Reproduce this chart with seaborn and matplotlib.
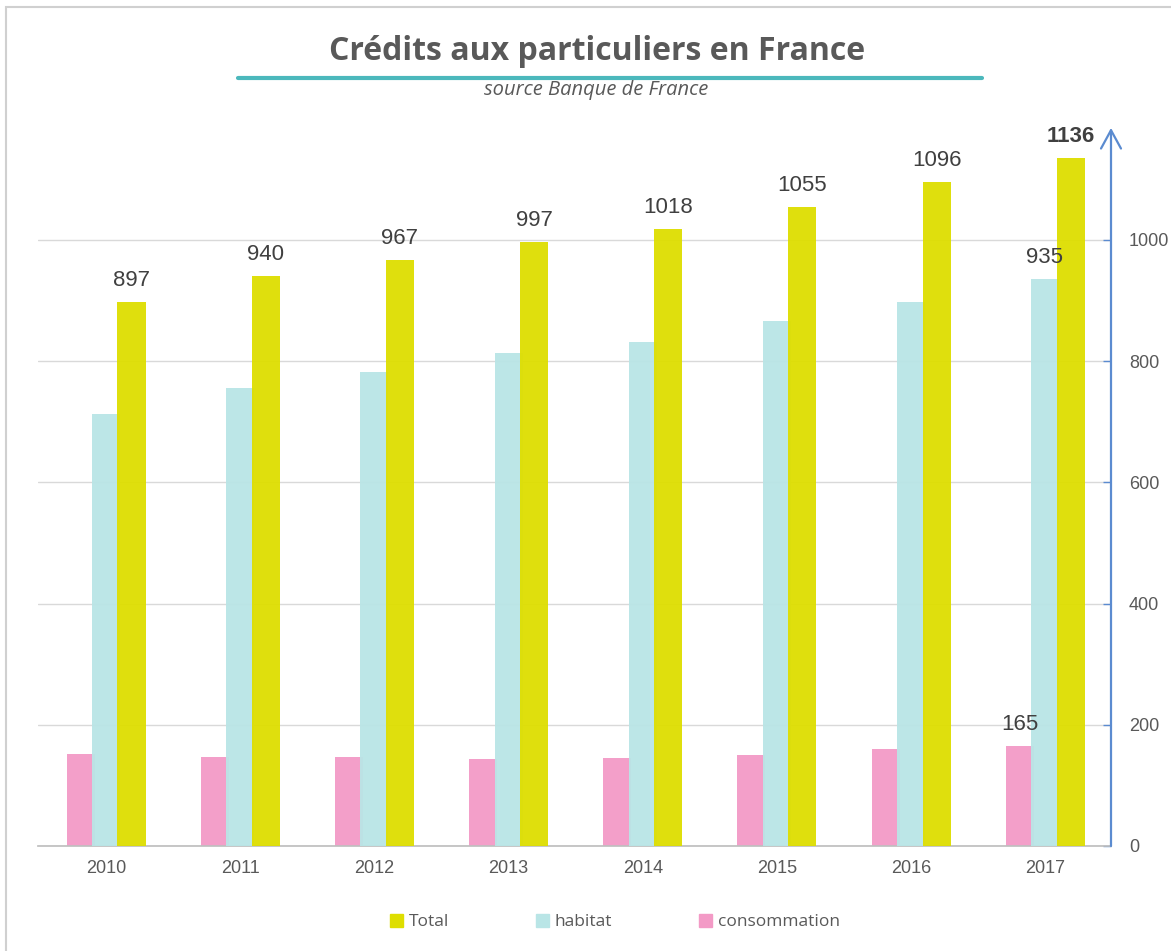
import pandas as pd
import seaborn as sns
import matplotlib
matplotlib.use('Agg')
import matplotlib.pyplot as plt
from matplotlib.patches import Patch, Rectangle
from matplotlib.lines import Line2D

# données (milliards d'euros)
annees = ['2010', '2011', '2012', '2013', '2014', '2015', '2016', '2017']
total = [897, 940, 967, 997, 1018, 1055, 1096, 1136]
habitat = [713, 756, 782, 813, 832, 866, 898, 935]
consommation = [152, 147, 147, 144, 145, 150, 160, 165]

couleurs = {'consommation': '#F39AC6', 'habitat': '#B9E5E6', 'Total': '#DEDE00'}
ordre = ['consommation', 'habitat', 'Total']

df = pd.DataFrame({'annee': annees * 3,
                   'serie': ['Total'] * 8 + ['habitat'] * 8 + ['consommation'] * 8,
                   'valeur': total + habitat + consommation})

sns.set_theme(style='white')
plt.rcParams['font.family'] = ['Liberation Sans', 'DejaVu Sans']

W, H = 1171, 951
fig = plt.figure(figsize=(W / 100, H / 100), dpi=100)
ax = fig.add_axes([38 / W, 1 - 846 / H, (1111 - 38) / W, 703 / H])

sns.barplot(data=df, x='annee', y='valeur', hue='serie', hue_order=ordre,
            palette=couleurs, width=0.57, gap=-0.1, order=annees,
            saturation=1, legend=False, ax=ax, linewidth=0)

for i, cont in enumerate(ax.containers):
    for p in cont:
        p.set_zorder(2 + i)
        p.set_alpha(0.95)

ax.set_xlim(-0.507, 7.49)
ax.set_ylim(0, 1160)
ax.set_xlabel('')
ax.set_ylabel('')

# axe vertical à droite
ax.yaxis.tick_right()
ax.set_yticks([0, 200, 400, 600, 800, 1000])
ax.tick_params(axis='y', direction='in', length=6, color='#5B8BD0', width=1,
               labelsize=13, labelcolor='#595959', pad=13, right=True, left=False)
ax.tick_params(axis='x', length=0, labelsize=13, labelcolor='#595959', pad=10)
ax.grid(axis='y', color='#D9D9D9', lw=1)
ax.set_axisbelow(True)
for s in ['top', 'left', 'right']:
    ax.spines[s].set_visible(False)
ax.spines['bottom'].set_color('#BFBFBF')
ax.annotate('', xy=(1, 1.0215), xytext=(1, 0), xycoords='axes fraction',
            arrowprops=dict(arrowstyle='->,head_length=1.1,head_width=0.6',
                            color='#5B8BD0', lw=1.6, shrinkA=0, shrinkB=0),
            annotation_clip=False)

# étiquettes de valeurs
for i, v in enumerate(total):
    ax.text(i + 0.19, v + 18, str(v), ha='center', va='bottom', fontsize=16,
            color='#404040', fontweight='bold' if i == 7 else 'normal', zorder=6)
ax.text(7 - 0.007, habitat[7] + 18, str(habitat[7]), ha='center', va='bottom',
        fontsize=16, color='#404040', zorder=6)
ax.text(7 - 0.19, consommation[7] + 18, str(consommation[7]), ha='center',
        va='bottom', fontsize=16, color='#404040', zorder=6)

# titre, trait et source
fig.text(597 / W, 1 - 60 / H, 'Crédits aux particuliers en France', ha='center',
         va='baseline', fontsize=23, fontweight='bold', color='#595959',
         family=['Open Sans', 'DejaVu Sans'])
fig.add_artist(Line2D([238 / W, 982 / W], [1 - 78 / H, 1 - 78 / H],
                      color='#4BB8BC', lw=3))
fig.text(596 / W, 1 - 95 / H, 'source Banque de France', ha='center',
         va='baseline', fontsize=14.5, style='italic', color='#595959',
         family=['Open Sans', 'DejaVu Sans'])

# cadre
fig.add_artist(Rectangle((6 / W, -0.1), 1.2, 1 - 7 / H + 0.1, fill=False,
                         ec='#D0D0D0', lw=1.5))

# légende
handles = [Patch(color=couleurs[k]) for k in ['Total', 'habitat', 'consommation']]
fig.legend(handles, ['Total', 'habitat', 'consommation'], loc='center left',
           bbox_to_anchor=(374 / W, 1 - 922 / H), ncol=3, frameon=False,
           handlelength=0.75, handleheight=0.75, handletextpad=0.35,
           columnspacing=5.0, prop={'family': 'Open Sans', 'size': 12.5},
           labelcolor='#595959')

fig.savefig('out.png', dpi=100)
